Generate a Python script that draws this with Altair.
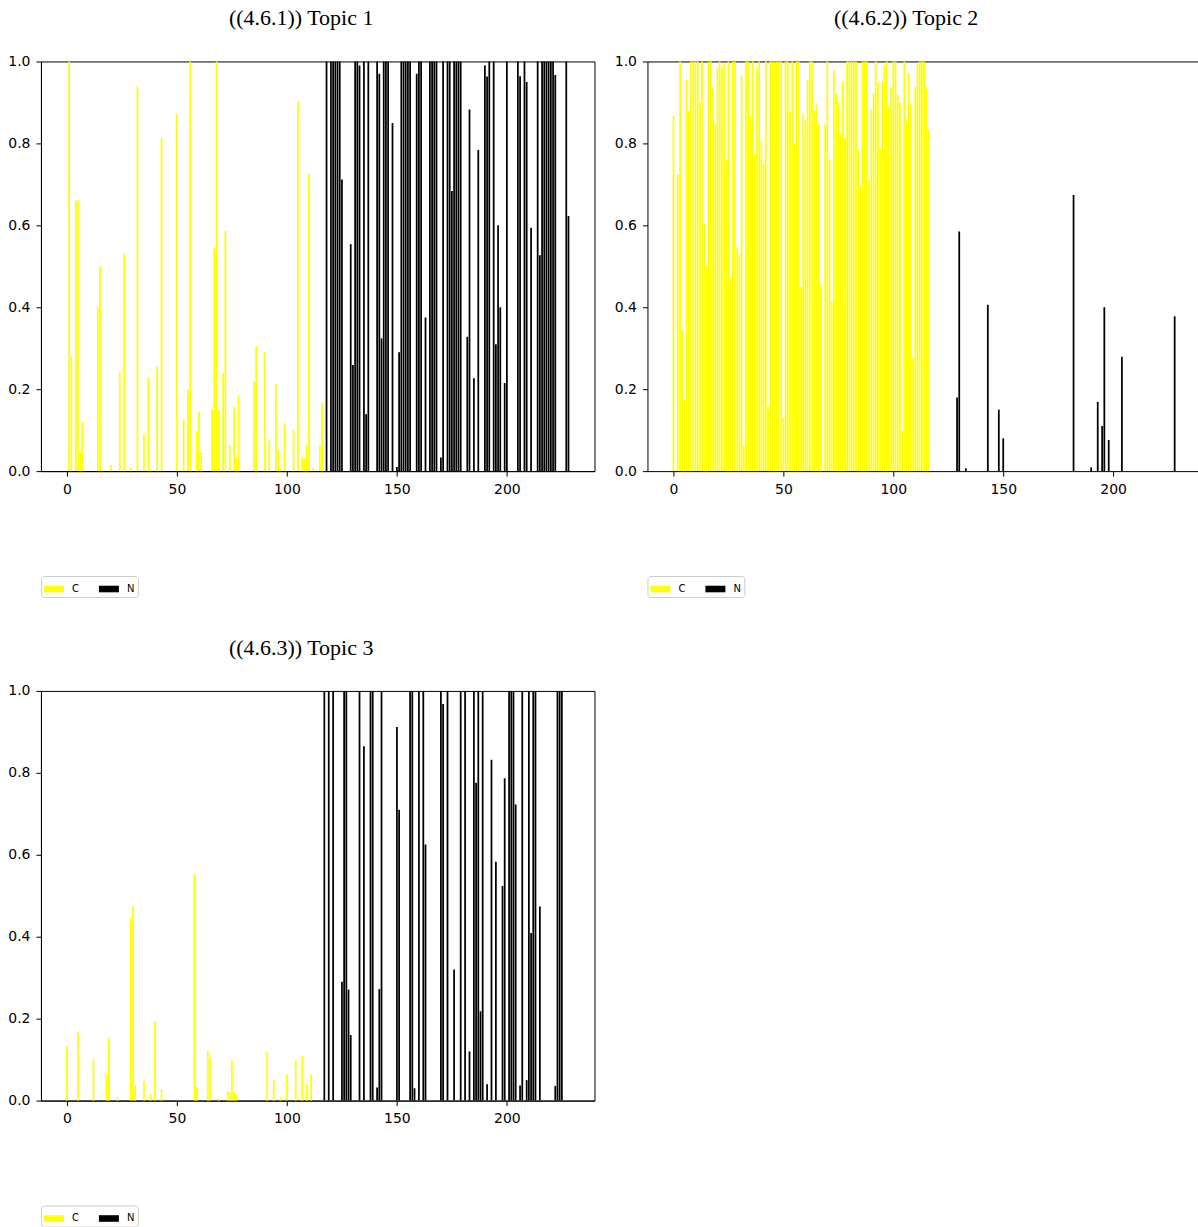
import altair as alt
import pandas as pd

# Bar heights per position (positions 0-116 belong to C, 117-228 to N).
# Positions that are not listed have a height of zero.
topic1_c = {1: 1.0, 2: 0.28, 4: 0.66, 5: 0.663, 6: 0.047, 7: 0.12, 14: 0.40, 15: 0.50,
            16: 0.005, 20: 0.015, 24: 0.242, 26: 0.53, 29: 0.01, 32: 0.94, 35: 0.09,
            37: 0.23, 38: 0.003, 41: 0.255, 43: 0.816, 50: 0.871, 53: 0.125, 55: 0.20,
            56: 1.0, 59: 0.098, 60: 0.145, 61: 0.047, 66: 0.152, 67: 0.545, 68: 1.0,
            69: 0.15, 71: 0.239, 72: 0.586, 74: 0.064, 76: 0.157, 77: 0.033, 78: 0.185,
            85: 0.219, 86: 0.305, 90: 0.29, 92: 0.078, 95: 0.212, 96: 0.05, 97: 0.007,
            99: 0.115, 103: 0.10, 105: 0.903, 107: 0.035, 108: 0.03, 109: 0.064,
            110: 0.726, 112: 0.009, 115: 0.063, 116: 0.166}
topic1_n = {118: 1, 120: 1, 121: 1, 122: 1, 123: 1, 124: 1, 125: 0.712, 129: 0.554,
            130: 0.259, 131: 1, 132: 1, 133: 0.99, 135: 1, 136: 0.139, 137: 1, 141: 1,
            142: 0.97, 143: 0.324, 144: 1, 145: 1, 146: 1, 148: 0.85, 150: 0.01, 151: 0.29,
            152: 1, 153: 1, 154: 1, 155: 1, 156: 1, 159: 0.97, 160: 1, 161: 1, 163: 0.375,
            165: 1, 166: 1, 167: 1, 168: 1, 170: 0.033, 171: 1, 173: 1, 174: 1, 175: 0.684,
            176: 1, 177: 1, 178: 1, 179: 1, 182: 0.328, 183: 0.883, 185: 0.227, 187: 0.784,
            190: 0.99, 191: 0.963, 192: 1, 194: 1, 195: 0.31, 196: 0.60, 197: 0.40,
            199: 0.215, 200: 1, 205: 1, 206: 0.964, 208: 1, 209: 0.95, 211: 0.594, 214: 1,
            215: 0.527, 216: 1, 217: 1, 218: 1, 219: 1, 220: 1, 221: 1, 222: 0.967, 227: 1,
            228: 0.623}

topic2_c = [0.867, 0, 0.724, 1.0, 0.342, 0.174, 0.956, 0.88, 1.0, 1.0,
            1.0, 1.0, 0.90, 1.0, 0.604, 0.50, 1.0, 1.0, 0.937, 0.849,
            0.986, 1.0, 0.985, 0.993, 0.759, 1.0, 0.474, 1.0, 1.0, 0.545,
            0.529, 0.964, 0.062, 1.0, 1.0, 0.867, 1.0, 0.773, 0.985, 1.0,
            0.807, 0.749, 1.0, 0.157, 1.0, 1.0, 1.0, 1.0, 1.0, 1.0,
            0.131, 1.0, 1.0, 0.877, 1.0, 0.80, 1.0, 1.0, 0.45, 0.872,
            0.856, 0.954, 1.0, 1.0, 0.879, 0.895, 0.849, 0.456, 0, 0.846,
            1.0, 0.761, 0.415, 0.978, 0.92, 0.90, 0.824, 0.952, 0.815, 1.0,
            1.0, 1.0, 1.0, 1.0, 0.784, 0.693, 1.0, 1.0, 1.0, 0.711,
            0.883, 0.923, 1.0, 0.95, 0.788, 0.952, 0.989, 1.0, 0.889, 0.937,
            1.0, 1.0, 0.919, 0.90, 0.098, 1.0, 0.856, 0.972, 0.897, 0.277,
            0.938, 0.993, 1.0, 1.0, 1.0, 0.937, 0.834]
topic2_n = {129: 0.18, 130: 0.585, 133: 0.007, 143: 0.406, 148: 0.15, 150: 0.08,
            182: 0.674, 190: 0.009, 193: 0.169, 195: 0.11, 196: 0.40, 198: 0.076,
            204: 0.279, 228: 0.378}

topic3_c = {0: 0.133, 5: 0.166, 12: 0.10, 18: 0.064, 19: 0.153, 23: 0.009, 29: 0.445,
            30: 0.474, 31: 0.038, 35: 0.048, 38: 0.015, 40: 0.194, 43: 0.028, 58: 0.552,
            59: 0.033, 64: 0.122, 65: 0.107, 69: 0.005, 73: 0.024, 74: 0.02, 75: 0.098,
            76: 0.021, 77: 0.015, 91: 0.118, 94: 0.05, 97: 0.007, 100: 0.064, 104: 0.10,
            107: 0.11, 109: 0.041, 111: 0.064}
topic3_n = {117: 1, 119: 1, 121: 1, 125: 0.29, 126: 1, 127: 1, 128: 0.271, 129: 0.16,
            133: 1, 135: 0.865, 138: 1, 139: 1, 141: 0.032, 142: 0.272, 143: 1, 150: 0.912,
            151: 0.71, 156: 1, 157: 1, 158: 0.03, 160: 1, 162: 1, 163: 0.625, 170: 1,
            171: 0.968, 173: 1, 176: 0.32, 179: 1, 181: 1, 183: 0.12, 185: 1, 186: 0.776,
            187: 1, 188: 0.218, 189: 1, 191: 0.04, 193: 0.832, 195: 0.583, 198: 0.524,
            199: 0.787, 201: 1, 202: 1, 203: 1, 204: 0.723, 206: 0.037, 207: 1, 209: 0.05,
            210: 1, 211: 0.409, 212: 1, 213: 1, 215: 0.474, 222: 0.036, 223: 1, 224: 1,
            225: 1}

groups = ["C", "N"]
group_colors = ["#ffff00", "#000000"]
x_ticks = [0, 50, 100, 150, 200]
y_ticks = [0.0, 0.2, 0.4, 0.6, 0.8, 1.0]
titles = ["((4.6.1)) Topic 1", "((4.6.2)) Topic 2", "((4.6.3)) Topic 3"]

PLOT_W, PLOT_H = 554, 410
X_MIN, X_MAX = -11.84, 239.84


def as_dict(values):
    return values if isinstance(values, dict) else dict(enumerate(values))


def table(c_vals, n_vals):
    rows = []
    for grp, vals in (("C", as_dict(c_vals)), ("N", as_dict(n_vals))):
        for pos, val in vals.items():
            if val > 0:
                rows.append({"pos": pos, "val": val, "grp": grp})
    return pd.DataFrame(rows)


Y_AXIS = alt.Axis(values=y_ticks, format=".1f", title=None)


def panel(df, title, full_box=True, width=PLOT_W, x_max=X_MAX):
    base = alt.Chart(df).transform_calculate(
        lo="datum.pos - 0.4", hi="datum.pos + 0.4"
    )
    x_scale = alt.Scale(domain=[X_MIN, x_max], nice=False, zero=False)
    y_scale = alt.Scale(domain=[0, 1], nice=False)
    bars = base.mark_bar().encode(
        x=alt.X("lo:Q", scale=x_scale,
                axis=alt.Axis(orient="bottom", values=x_ticks, format="d", title=None)),
        x2="hi:Q",
        y=alt.Y("val:Q", scale=y_scale, axis=Y_AXIS),
        y2=alt.datum(0),
        color=alt.Color(
            "grp:N",
            scale=alt.Scale(domain=groups, range=group_colors),
            legend=alt.Legend(
                orient="none", legendX=0, legendY=515, direction="horizontal",
                title=None, symbolType="M-1,-0.33H1V0.33H-1Z", symbolSize=400,
                symbolStrokeWidth=0, labelFont="DejaVu Sans", labelFontSize=10,
                labelColor="black", labelOffset=8, columnPadding=20, padding=3,
                strokeColor="#cccccc", fillColor="white", cornerRadius=3,
            ),
        ),
    )
    title_params = alt.TitleParams(
        text=title, font="Liberation Serif", fontSize=22, fontWeight="normal",
        color="black", anchor="middle", frame="bounds", offset=24,
    )
    if full_box:
        return bars.properties(width=width, height=PLOT_H, title=title_params)
    # open on the right: top edge drawn by a label-free top axis
    top_edge = base.mark_bar(opacity=0).encode(
        x=alt.X("lo:Q", scale=x_scale,
                axis=alt.Axis(orient="top", labels=False, ticks=False, domain=True,
                              title=None)),
        x2="hi:Q",
        y=alt.Y("val:Q", scale=y_scale, axis=Y_AXIS),
        y2=alt.datum(0),
    )
    return alt.layer(bars, top_edge).properties(
        width=width, height=PLOT_H, title=title_params,
        view=alt.ViewBackground(stroke=None),
    )


p1 = panel(table(topic1_c, topic1_n), titles[0])
p2 = panel(table(topic2_c, topic2_n), titles[1], full_box=False,
           width=551, x_max=X_MIN + 551 / 2.2)
p3 = panel(table(topic3_c, topic3_n), titles[2])

chart = alt.vconcat(
    alt.hconcat(p1, p2, spacing=18).resolve_legend(color="independent"),
    p3,
    spacing=38,
).resolve_legend(
    color="independent"
).properties(
    padding={"left": 7, "top": 6, "right": 0, "bottom": 0},
    background="white",
).configure_view(
    stroke="black", strokeWidth=1
).configure_axis(
    labelFont="DejaVu Sans", labelFontSize=14, labelColor="black",
    tickColor="black", tickSize=5, labelPadding=6, domainColor="black",
    grid=False,
)

chart.save("out.html", embed_options={"renderer": "svg", "actions": False})
